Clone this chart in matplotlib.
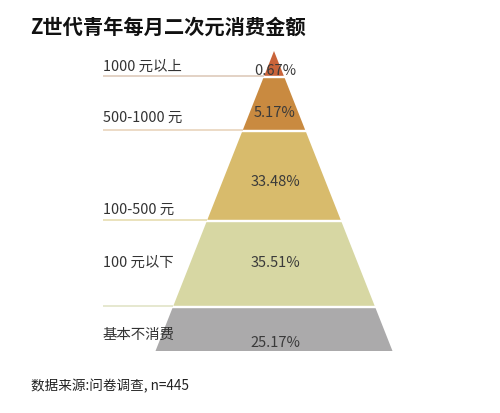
import matplotlib.pyplot as plt
from matplotlib.patches import Polygon

plt.rcParams['font.family'] = ['Noto Sans CJK SC', 'DejaVu Sans']

# data, top to bottom
categories = ['1000 元以上', '500-1000 元', '100-500 元', '100 元以下', '基本不消费']
shares = [0.67, 5.17, 33.48, 35.51, 25.17]
colors = ['#c9643a', '#c98a40', '#d8bb6c', '#d7d7a3', '#abaaab']
line_colors = ['#e0cfc0', '#ead8c2', '#e8dfb6', '#e4e6cc', None]

# layout of the pyramid (pixel units)
apex_x, apex_y = 274, 52
slope = 0.395          # half-width per pixel of height
edges = [52, 78, 132, 222, 308, 352]
gap = 1.2

fig = plt.figure(figsize=(5, 4.14), dpi=100)
ax = fig.add_axes([0, 0, 1, 1])
ax.set_xlim(0, 500)
ax.set_ylim(414, 0)
ax.axis('off')


def half_w(y):
    return (y - apex_y) * slope


for i, (cat, val, col) in enumerate(zip(categories, shares, colors)):
    top = edges[i] + (gap if i > 0 else 0)
    bot = edges[i + 1] - gap
    if i == len(categories) - 1:
        bot = edges[i + 1]
    pts = [(apex_x - half_w(top), top), (apex_x + half_w(top), top),
           (apex_x + half_w(bot), bot), (apex_x - half_w(bot), bot)]
    ax.add_patch(Polygon(pts, closed=True, facecolor=col, edgecolor='none'))

    # leader line under the label
    if line_colors[i]:
        ax.plot([103, apex_x - half_w(bot)], [bot + 0.5, bot + 0.5],
                color=line_colors[i], lw=1.3, solid_capstyle='butt')

# label positions (pixel y)
label_y = [67, 118, 210, 263, 335]
value_y = [71, 113, 182, 263, 343]
for cat, val, ly, vy in zip(categories, shares, label_y, value_y):
    ax.text(103, ly, cat, fontsize=10.4, color='#333333', va='center', ha='left')
    ax.text(apex_x + 1, vy, f'{val:.2f}%', fontsize=10.5, color='#3a3a3a',
            va='center', ha='center')

ax.text(30, 27, 'Z世代青年每月二次元消费金额', fontsize=14.6, fontweight='bold',
        color='#111111', va='center', ha='left')
ax.text(31, 386, '数据来源:问卷调查, n=445', fontsize=9.8, color='#222222',
        va='center', ha='left')

fig.savefig('out.png', dpi=100)
